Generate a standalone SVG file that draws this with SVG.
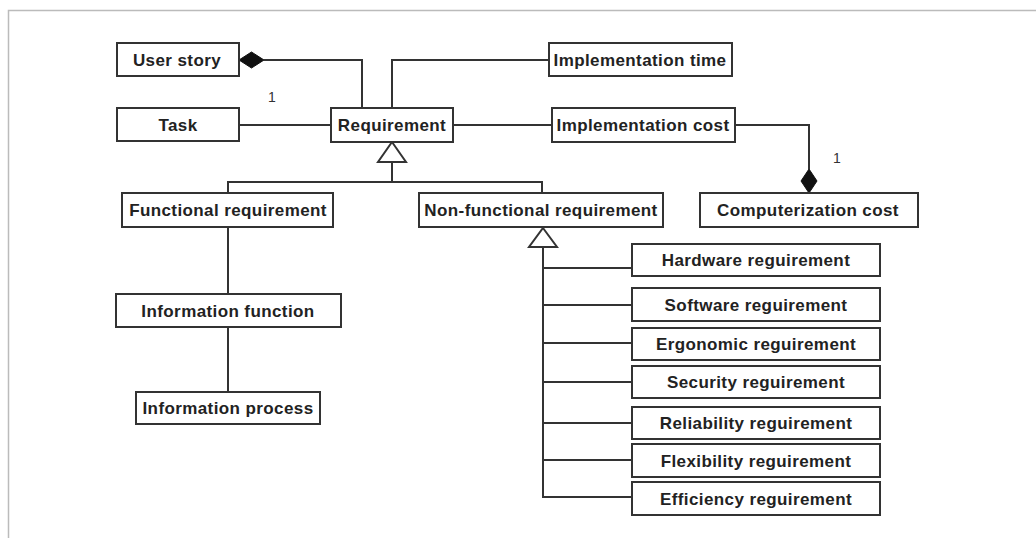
<svg xmlns="http://www.w3.org/2000/svg" width="1036" height="538" viewBox="0 0 1036 538">
<style>
.box{fill:#fff;stroke:#333;stroke-width:2}
.t{font-family:"Liberation Sans",Arial,sans-serif;font-weight:bold;font-size:17px;letter-spacing:0.4px;fill:#222;text-anchor:middle}
.m{font-family:"Liberation Sans",Arial,sans-serif;font-size:14px;fill:#333;text-anchor:middle}
.ln{fill:none;stroke:#333;stroke-width:2}
.gen{fill:#fff;stroke:#333;stroke-width:2}
.dia{fill:#111;stroke:#111;stroke-width:1}
</style>
<rect width="1036" height="538" fill="#fff"/>
<path d="M8.5 538 V10.5 H1036" fill="none" stroke="#bbb" stroke-width="1.5"/>
<g id="connectors">
<path class="ln" d="M264 60 H362 V108"/>
<path class="ln" d="M239 125 H331"/>
<path class="ln" d="M392 108 V60 H549"/>
<path class="ln" d="M453 125 H552"/>
<path class="ln" d="M735 125 H809 V169"/>
<polygon class="dia" points="809,169 817,181 809,193 801,181"/>
<polygon class="dia" points="239,60 251.5,52 264,60 251.5,68"/>
<path class="ln" d="M392 162 V182 M228 193 V182 H542 V193"/>
<polygon class="gen" points="392,142 406,162 378,162"/>
<path class="ln" d="M228 227 V294"/>
<path class="ln" d="M228 327 V392"/>
<path class="ln" d="M543 247 V497 H632 M543 268 H632 M543 305 H632 M543 343 H632 M543 382 H632 M543 423 H632 M543 460 H632"/>
<polygon class="gen" points="543,228 557,247 529,247"/>
<text class="m" x="272" y="102">1</text>
<text class="m" x="837" y="163">1</text>
</g>
<g id="user-story"><rect class="box" x="117" y="43" width="122" height="33"/><text class="t" x="177" y="66">User story</text></g>
<g id="task"><rect class="box" x="117" y="108" width="122" height="33"/><text class="t" x="178" y="131">Task</text></g>
<g id="requirement"><rect class="box" x="331" y="108" width="122" height="34"/><text class="t" x="392" y="131">Requirement</text></g>
<g id="implementation-time"><rect class="box" x="549" y="43" width="183" height="33"/><text class="t" x="640" y="66">Implementation time</text></g>
<g id="implementation-cost"><rect class="box" x="552" y="108" width="183" height="34"/><text class="t" x="643" y="131">Implementation cost</text></g>
<g id="computerization-cost"><rect class="box" x="700" y="193" width="218" height="34"/><text class="t" x="808" y="216">Computerization cost</text></g>
<g id="functional-requirement"><rect class="box" x="122" y="193" width="211" height="34"/><text class="t" x="228" y="216">Functional requirement</text></g>
<g id="non-functional-requirement"><rect class="box" x="419" y="193" width="244" height="34"/><text class="t" x="541" y="216">Non-functional requirement</text></g>
<g id="information-function"><rect class="box" x="116" y="294" width="225" height="33"/><text class="t" x="228" y="317">Information function</text></g>
<g id="information-process"><rect class="box" x="136" y="392" width="184" height="32"/><text class="t" x="228" y="414">Information process</text></g>
<g id="hardware"><rect class="box" x="632" y="244" width="248" height="32"/><text class="t" x="756" y="266">Hardware reguirement</text></g>
<g id="software"><rect class="box" x="632" y="288" width="248" height="33"/><text class="t" x="756" y="311">Software reguirement</text></g>
<g id="ergonomic"><rect class="box" x="632" y="328" width="248" height="32"/><text class="t" x="756" y="350">Ergonomic reguirement</text></g>
<g id="security"><rect class="box" x="632" y="366" width="248" height="32"/><text class="t" x="756" y="388">Security reguirement</text></g>
<g id="reliability"><rect class="box" x="632" y="407" width="248" height="32"/><text class="t" x="756" y="429">Reliability reguirement</text></g>
<g id="flexibility"><rect class="box" x="632" y="444" width="248" height="33"/><text class="t" x="756" y="467">Flexibility reguirement</text></g>
<g id="efficiency"><rect class="box" x="632" y="482" width="248" height="33"/><text class="t" x="756" y="505">Efficiency reguirement</text></g>
</svg>
